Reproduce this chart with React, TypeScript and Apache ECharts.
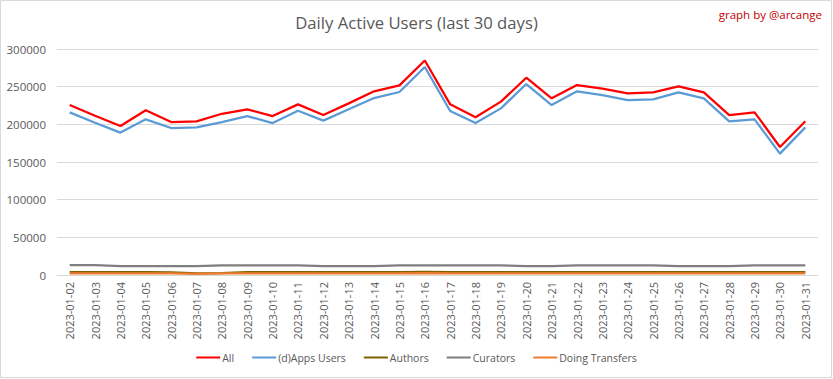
import React, { useEffect, useRef } from "react";
import * as echarts from "echarts";

const dates = [
  "2023-01-02", "2023-01-03", "2023-01-04", "2023-01-05", "2023-01-06", "2023-01-07",
  "2023-01-08", "2023-01-09", "2023-01-10", "2023-01-11", "2023-01-12", "2023-01-13",
  "2023-01-14", "2023-01-15", "2023-01-16", "2023-01-17", "2023-01-18", "2023-01-19",
  "2023-01-20", "2023-01-21", "2023-01-22", "2023-01-23", "2023-01-24", "2023-01-25",
  "2023-01-26", "2023-01-27", "2023-01-28", "2023-01-29", "2023-01-30", "2023-01-31",
];

const allUsers = [
  225600, 211500, 197800, 218600, 203000, 204000, 214000, 219900, 211000, 226500,
  212300, 227800, 243800, 251700, 284800, 226500, 209300, 230100, 261900, 234500,
  252100, 247300, 241100, 242400, 250400, 242400, 212300, 215900, 169900, 204000,
];

const appsUsers = [
  215900, 202200, 189000, 206600, 195100, 196000, 203000, 211000, 201700, 218100,
  204900, 219900, 234900, 242900, 276100, 217700, 201700, 221200, 253500, 225600,
  243800, 238900, 232200, 233200, 242400, 234500, 204000, 206600, 161100, 196000,
];

const authors = [
  3900, 3800, 3700, 3800, 3500, 2200, 2600, 3800, 3900, 3900,
  3800, 3800, 3800, 3900, 4000, 3900, 3800, 3900, 3900, 3800,
  3800, 3900, 3900, 3800, 3900, 3800, 3800, 3900, 3800, 3900,
];

const curators = [
  13200, 13000, 11700, 11700, 11700, 11700, 12800, 12900, 12900, 12900,
  11700, 11700, 11700, 12900, 12900, 12900, 12900, 12900, 11700, 11700,
  12900, 12900, 12900, 12900, 11700, 11700, 11700, 12900, 12900, 12900,
];

const transfers = [
  2300, 2300, 2200, 2300, 2200, 1500, 2000, 2300, 2300, 2300,
  2300, 2300, 2300, 2300, 2400, 2300, 2300, 2300, 2300, 2300,
  2300, 2300, 2300, 2300, 2300, 2300, 2300, 2300, 2300, 2300,
];

const FONT = "'Open Sans', sans-serif";

export default function App() {
  const ref = useRef<HTMLDivElement>(null);
  useEffect(() => {
    document.body.style.margin = "0";
    const chart = echarts.init(ref.current!, null, { renderer: "svg" });
    const mk = (name: string, data: number[], color: string, width: number) => ({
      name,
      type: "line",
      data,
      symbol: "none",
      lineStyle: { color, width },
      itemStyle: { color },
    });
    chart.setOption({
      animation: false,
      backgroundColor: "#ffffff",
      title: {
        text: "Daily Active Users (last 30 days)",
        left: "center",
        top: 9,
        textStyle: { fontFamily: FONT, fontSize: 16.7, fontWeight: "normal", color: "#595959" },
      },
      graphic: [
        {
          type: "rect",
          shape: { x: 0.5, y: 0.5, width: 831, height: 377 },
          style: { fill: "none", stroke: "#d9d9d9", lineWidth: 1 },
          silent: true,
        },
        {
          type: "text",
          right: 11,
          top: 8,
          style: { text: "graph by @arcange", fontFamily: FONT, fontSize: 11.5, fill: "#c00000" },
        },
      ],
      legend: {
        bottom: 11,
        left: "center",
        itemWidth: 24,
        itemHeight: 2,
        itemGap: 18,
        icon: "rect",
        textStyle: { fontFamily: FONT, fontSize: 10.5, color: "#595959", padding: [0, 0, 0, -3] },
        data: ["All", "(d)Apps Users", "Authors", "Curators", "Doing Transfers"],
      },
      grid: { left: 57, right: 15, top: 49, bottom: 104 },
      xAxis: {
        type: "category",
        data: dates,
        boundaryGap: true,
        axisLine: { lineStyle: { color: "#d9d9d9" } },
        axisTick: { show: false },
        axisLabel: {
          rotate: 90,
          interval: 0,
          fontFamily: FONT,
          fontSize: 11,
          color: "#595959",
          margin: 7,
        },
      },
      yAxis: {
        type: "value",
        min: 0,
        max: 300000,
        interval: 50000,
        axisLine: { show: false },
        axisTick: { show: false },
        splitLine: { lineStyle: { color: "#d9d9d9" } },
        axisLabel: {
          fontFamily: FONT,
          fontSize: 11.5,
          color: "#595959",
          margin: 11,
          formatter: (v: number) => String(v),
        },
      },
      series: [
        mk("All", allUsers, "#ff0000", 2.25),
        mk("(d)Apps Users", appsUsers, "#5b9bd5", 2.25),
        mk("Authors", authors, "#7f6000", 2.25),
        mk("Curators", curators, "#7f7f7f", 2.25),
        mk("Doing Transfers", transfers, "#ed7d31", 2.25),
      ],
    });
    return () => chart.dispose();
  }, []);
  return <div ref={ref} style={{ width: 833, height: 379 }} />;
}
